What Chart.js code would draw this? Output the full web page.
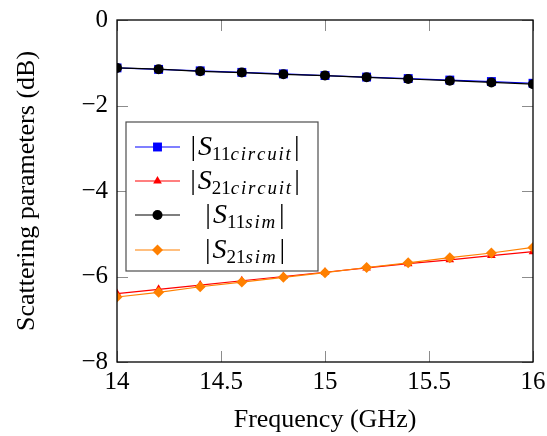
<!DOCTYPE html>
<html>
<head>
<meta charset="utf-8">
<script src="https://cdn.jsdelivr.net/npm/chart.js@4.4.0/dist/chart.umd.min.js"></script>
<style>
  body { margin: 0; background: #fff; }
  #wrap { width: 547px; height: 436px; }
</style>
</head>
<body>
<div id="wrap"><canvas id="chart" width="547" height="436"></canvas></div>
<script>
// data
var freq = [14, 14.2, 14.4, 14.6, 14.8, 15, 15.2, 15.4, 15.6, 15.8, 16];
var s11Circuit = [-1.12, -1.155, -1.19, -1.225, -1.26, -1.30, -1.335, -1.37, -1.405, -1.44, -1.48];
var s21Circuit = [-6.40, -6.30, -6.20, -6.10, -6.00, -5.90, -5.80, -5.70, -5.61, -5.51, -5.42];
var s11Sim = [-1.12, -1.15, -1.20, -1.23, -1.27, -1.30, -1.34, -1.38, -1.42, -1.46, -1.50];
var s21Sim = [-6.48, -6.37, -6.24, -6.13, -6.02, -5.91, -5.79, -5.68, -5.56, -5.45, -5.32];

var xTicks = [14, 14.5, 15, 15.5, 16];
var yTicks = [0, -2, -4, -6, -8];

// legend text pieces: |S_{num text}|
var legendNum = ["11", "21", "11", "21"];
var legendSub = ["circuit", "circuit", "sim", "sim"];

var serif = "'Liberation Serif', 'Times New Roman', serif";

function pts(ys) {
  return freq.map(function (f, i) { return { x: f, y: ys[i] }; });
}

var series = [
  { vals: s11Circuit, color: "#0000ff", style: "rect", r: 6.3, order: 4 },
  { vals: s21Circuit, color: "#ff0000", style: "triangle", r: 5, order: 3 },
  { vals: s11Sim, color: "#000000", style: "circle", r: 5, order: 2 },
  { vals: s21Sim, color: "#ff8000", style: "rectRot", r: 5.5, order: 1 },
];

var datasets = series.map(function (s, i) {
  return {
    label: "|S" + legendNum[i] + legendSub[i] + "|",
    data: pts(s.vals),
    borderColor: s.color,
    backgroundColor: s.color,
    borderWidth: 1.2,
    pointStyle: s.style,
    pointRadius: s.r,
    pointBorderWidth: 0,
    pointHoverRadius: s.r,
    order: s.order,
    tension: 0,
  };
});

// frame + inward ticks like pgfplots
var framePlugin = {
  id: "frame",
  afterDatasetsDraw: function (chart) {
    var ctx = chart.ctx;
    var a = chart.chartArea;
    var xs = chart.scales.x, ys = chart.scales.y;
    var tl = 11;
    ctx.save();
    ctx.strokeStyle = "#8c8c8c";
    ctx.lineWidth = 1;
    xTicks.forEach(function (v) {
      var px = Math.round(xs.getPixelForValue(v)) + 0.5;
      ctx.beginPath();
      ctx.moveTo(px, a.bottom); ctx.lineTo(px, a.bottom - tl);
      ctx.moveTo(px, a.top); ctx.lineTo(px, a.top + tl);
      ctx.stroke();
    });
    yTicks.forEach(function (v) {
      var py = Math.round(ys.getPixelForValue(v)) + 0.5;
      ctx.beginPath();
      ctx.moveTo(a.left, py); ctx.lineTo(a.left + tl, py);
      ctx.moveTo(a.right, py); ctx.lineTo(a.right - tl, py);
      ctx.stroke();
    });
    ctx.strokeStyle = "#000";
    ctx.lineWidth = 1.3;
    ctx.strokeRect(a.left, a.top, a.right - a.left, a.bottom - a.top);
    ctx.restore();
  },
};

// legend box drawn inside the plot
var legendPlugin = {
  id: "boxLegend",
  afterDraw: function (chart) {
    var ctx = chart.ctx;
    var bx = 126, by = 122, bw = 192, bh = 149;
    var rowY = [147, 181, 215, 250];
    ctx.save();
    ctx.fillStyle = "#fff";
    ctx.fillRect(bx, by, bw, bh);
    ctx.strokeStyle = "#4d4d4d";
    ctx.lineWidth = 1.2;
    ctx.strokeRect(bx, by, bw, bh);

    series.forEach(function (s, i) {
      var y = rowY[i];
      ctx.strokeStyle = s.color;
      ctx.lineWidth = 1.2;
      ctx.beginPath();
      ctx.moveTo(135, y); ctx.lineTo(180, y);
      ctx.stroke();
      ctx.fillStyle = s.color;
      Chart.helpers.drawPoint(ctx, { pointStyle: s.style, radius: s.r, rotation: 0, borderWidth: 0 }, 157.5, y);

      // text pieces
      var parts = [
        { t: "|", f: "28px " + serif, dy: 0 },
        { t: "S", f: "italic 28px " + serif, dy: 0 },
        { t: legendNum[i], f: "19px " + serif, dy: 5 },
        { t: legendSub[i], f: "italic 19px " + serif, dy: 5, ls: 1.8 },
        { t: "|", f: "28px " + serif, dy: 0 },
      ];
      var total = 0;
      parts.forEach(function (p) {
        ctx.font = p.f;
        p.w = ctx.measureText(p.t).width + (p.ls ? p.ls * p.t.length : 0);
        total += p.w;
      });
      total += 4;
      var x = 245 - total / 2;
      ctx.fillStyle = "#000";
      ctx.textBaseline = "alphabetic";
      var base = y + 8;
      parts.forEach(function (p, k) {
        ctx.font = p.f;
        if (p.ls) {
          var cx = x;
          for (var c = 0; c < p.t.length; c++) {
            ctx.fillText(p.t[c], cx, base + p.dy);
            cx += ctx.measureText(p.t[c]).width + p.ls;
          }
        } else {
          ctx.fillText(p.t, x, base + p.dy);
        }
        x += p.w + (k === 0 || k === 3 ? 2 : 0);
      });
    });
    ctx.restore();
  },
};

new Chart(document.getElementById("chart").getContext("2d"), {
  type: "line",
  data: { datasets: datasets },
  options: {
    responsive: false,
    animation: false,
    devicePixelRatio: 1,
    layout: { padding: { top: 20, right: 14, bottom: 0, left: 0 } },
    plugins: { legend: { display: false }, tooltip: { enabled: false } },
    scales: {
      x: {
        type: "linear",
        min: 14,
        max: 16,
        afterFit: function (scale) {
          scale.height = 74;
          scale.paddingLeft = 0;
          scale.paddingRight = 0;
        },
        afterBuildTicks: function (scale) {
          scale.ticks = xTicks.map(function (v) { return { value: v }; });
        },
        grid: { display: false, drawTicks: false },
        border: { display: false },
        ticks: {
          color: "#000",
          font: { family: serif, size: 25 },
          padding: 5,
          maxRotation: 0,
          callback: function (v) { return String(v); },
        },
        title: {
          display: true,
          text: "Frequency (GHz)",
          color: "#000",
          font: { family: serif, size: 26 },
          padding: 0,
        },
      },
      y: {
        min: -8,
        max: 0,
        afterFit: function (scale) {
          scale.width = 117;
          scale.paddingTop = 0;
          scale.paddingBottom = 0;
        },
        afterBuildTicks: function (scale) {
          scale.ticks = yTicks.map(function (v) { return { value: v }; });
        },
        grid: { display: false, drawTicks: false },
        border: { display: false },
        ticks: {
          color: "#000",
          font: { family: serif, size: 25 },
          padding: 9,
          callback: function (v) { return v < 0 ? "\u2212" + Math.abs(v) : String(v); },
        },
        title: {
          display: true,
          text: "Scattering parameters (dB)",
          color: "#000",
          font: { family: serif, size: 26 },
          padding: { top: 12, bottom: 0 },
        },
      },
    },
  },
  plugins: [framePlugin, legendPlugin],
});
</script>
</body>
</html>
